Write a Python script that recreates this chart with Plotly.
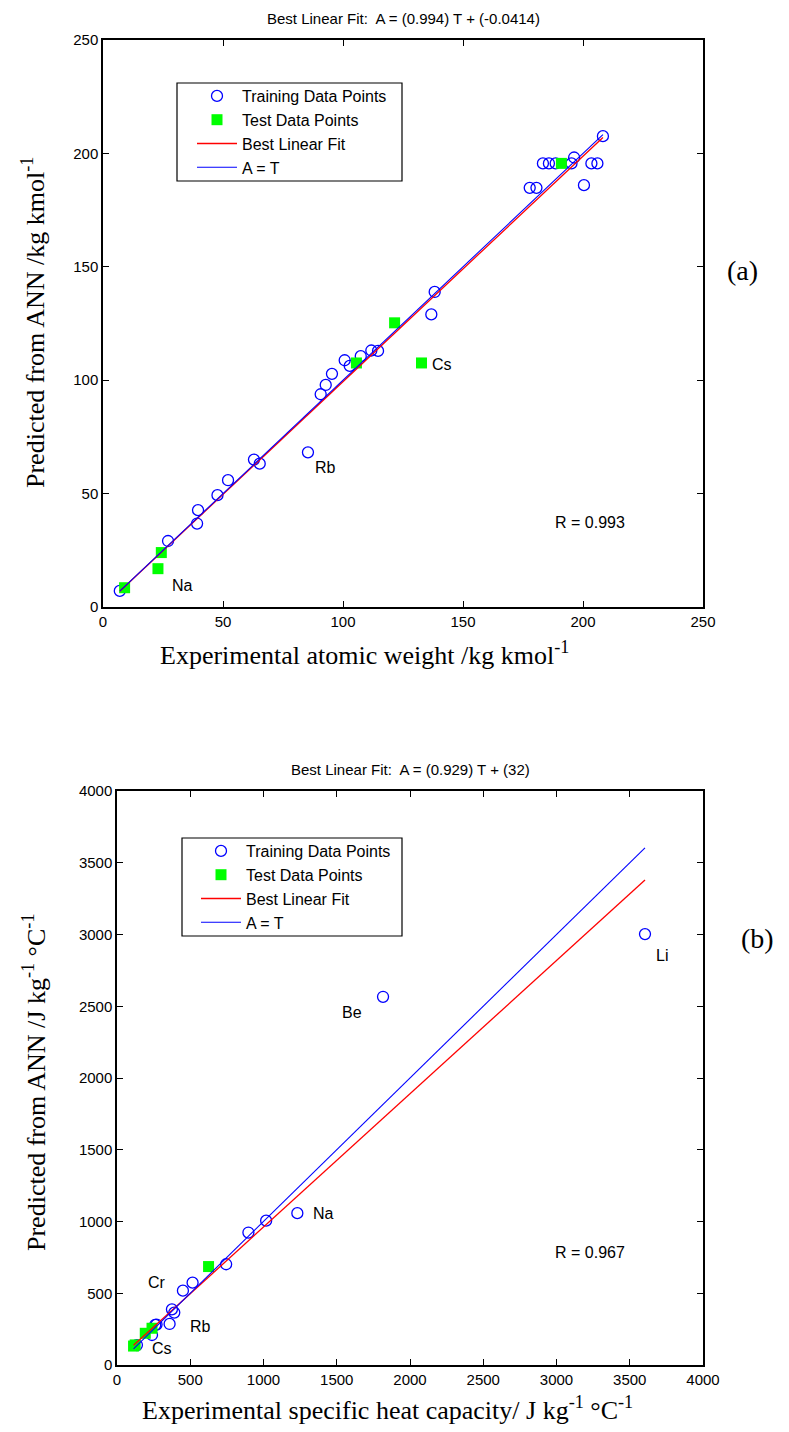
import plotly.graph_objects as go

# ---------------- data: (a) atomic weight ----------------
train_T_a = [7.0, 27.1, 39.2, 39.6, 47.7, 52.1, 62.9, 65.3, 85.4, 90.7, 92.8, 95.4,
             100.7, 102.8, 107.4, 111.8, 114.6, 136.8, 138.2, 177.8, 180.6, 183.3,
             185.8, 188.6, 195.2, 196.3, 200.4, 203.5, 206.0, 208.3]
train_A_a = [7.1, 29.1, 36.8, 42.7, 49.3, 55.9, 65.0, 63.2, 68.2, 93.8, 97.9, 102.8,
             108.8, 106.3, 110.6, 113.1, 112.9, 129.0, 138.9, 184.8, 184.8, 195.6,
             195.6, 195.6, 195.6, 198.2, 186.0, 195.6, 195.6, 207.6]
test_T_a = [9.0, 24.3, 22.9, 105.6, 121.5, 132.7, 191.0]
test_A_a = [8.5, 24.0, 16.9, 107.6, 125.3, 107.6, 195.6]
slope_a, icpt_a = 0.994, -0.0414
r_a = 0.993
labels_a = ["Na", "Rb", "Cs"]
labels_a_x = [33, 92.8, 141.4]
labels_a_y = [9.6, 61.5, 107]

# ---------------- data: (b) specific heat capacity ----------------
train_T_b = [136, 239, 261, 270, 359, 375, 391, 450, 516, 745, 897, 1018, 1231, 1816, 3604]
train_A_b = [139, 209, 279, 282, 286, 388, 365, 518, 574, 702, 923, 1006, 1058, 2566, 3003]
test_T_b = [113, 124, 193, 239, 625]
test_A_b = [132, 140, 221, 256, 686]
slope_b, icpt_b = 0.929, 32
r_b = 0.967
labels_b = ["Na", "Be", "Li", "Cr", "Rb", "Cs"]
labels_b_x = [1409, 1604, 3723, 273, 568, 307]
labels_b_y = [1058, 2455, 2852, 574, 267, 116]

OFF = 8                      # default body margin of the html page
W, H = 789 - 2 * OFF, 1432 - 2 * OFF
BLUE, GREEN, RED = "#0000FF", "#00FF00", "#FF0000"
SANS = "Liberation Sans, Arial, sans-serif"
SERIF = "Liberation Serif, Times New Roman, serif"


def px(v):  # page pixel -> paper fraction
    return (v - OFF) / W


def py(v):
    return 1 - (v - OFF) / H


fig = go.Figure()


def add_panel(tT, tA, sT, sA, slope, icpt, xa, ya, leg):
    allT = tT + sT
    lo, hi = min(allT), max(allT)
    fig.add_trace(go.Scatter(x=tT, y=tA, mode="markers", name="Training Data Points",
                             marker=dict(symbol="circle-open", size=11, color=BLUE,
                                         line=dict(width=1.3, color=BLUE)),
                             xaxis=xa, yaxis=ya, legend=leg))
    fig.add_trace(go.Scatter(x=sT, y=sA, mode="markers", name="Test Data Points",
                             marker=dict(symbol="square", size=11, color=GREEN,
                                         line=dict(width=0)),
                             xaxis=xa, yaxis=ya, legend=leg))
    fig.add_trace(go.Scatter(x=[lo, hi], y=[slope * lo + icpt, slope * hi + icpt],
                             mode="lines", name="Best Linear Fit",
                             line=dict(color=RED, width=1.3),
                             xaxis=xa, yaxis=ya, legend=leg))
    fig.add_trace(go.Scatter(x=[lo, hi], y=[lo, hi], mode="lines", name="A = T",
                             line=dict(color=BLUE, width=1.1),
                             xaxis=xa, yaxis=ya, legend=leg))


add_panel(train_T_a, train_A_a, test_T_a, test_A_a, slope_a, icpt_a, "x", "y", "legend")
add_panel(train_T_b, train_A_b, test_T_b, test_A_b, slope_b, icpt_b, "x2", "y2", "legend2")

axis_common = dict(showline=True, linecolor="black", linewidth=1.5, mirror="allticks",
                   ticks="inside", ticklen=6, tickcolor="black", tickwidth=1,
                   showgrid=False, zeroline=False, automargin=False,
                   tickfont=dict(family=SANS, size=15, color="black"))

legend_common = dict(xanchor="left", yanchor="top", borderwidth=0,
                     bgcolor="rgba(0,0,0,0)", itemwidth=40,
                     font=dict(family=SANS, size=16, color="black"))

fig.update_layout(
    width=W, height=H, margin=dict(l=0, r=0, t=0, b=0, pad=0, autoexpand=False),
    paper_bgcolor="white", plot_bgcolor="white", showlegend=True,
    xaxis=dict(domain=[px(103), px(703)], range=[0, 250], tickvals=[0, 50, 100, 150, 200, 250],
               anchor="y", **axis_common),
    yaxis=dict(domain=[py(607), py(40)], range=[0, 250], tickvals=[0, 50, 100, 150, 200, 250],
               anchor="x", **axis_common),
    xaxis2=dict(domain=[px(117), px(703)], range=[0, 4000],
                tickvals=[0, 500, 1000, 1500, 2000, 2500, 3000, 3500, 4000],
                anchor="y2", **axis_common),
    yaxis2=dict(domain=[py(1365), py(791)], range=[0, 4000],
                tickvals=[0, 500, 1000, 1500, 2000, 2500, 3000, 3500, 4000],
                anchor="x2", **axis_common),
    legend=dict(x=px(192), y=py(79), **legend_common),
    legend2=dict(x=px(196), y=py(834), **legend_common),
    shapes=[
        dict(type="rect", xref="paper", yref="paper", x0=px(177), x1=px(402),
             y0=py(181), y1=py(83), line=dict(color="black", width=1.2),
             fillcolor="white", layer="below"),
        dict(type="rect", xref="paper", yref="paper", x0=px(182), x1=px(402),
             y0=py(936), y1=py(838), line=dict(color="black", width=1.2),
             fillcolor="white", layer="below"),
    ],
)

ann = []


def note(text, x, y, font, xref="paper", yref="paper", angle=0):
    if xref == "paper":
        x, y = px(x), py(y)
    ann.append(dict(text=text, x=x, y=y, xref=xref, yref=yref, showarrow=False,
                    xanchor="center", yanchor="middle", textangle=angle, font=font))


f_title = dict(family=SANS, size=15, color="black")
f_axis = dict(family=SERIF, size=26, color="black")
f_lab = dict(family=SANS, size=16, color="black")

# titles
note("Best Linear Fit:  A = (%.3f) T + (%g)" % (slope_a, icpt_a), 403, 18, f_title)
note("Best Linear Fit:  A = (%.3f) T + (%g)" % (slope_b, icpt_b), 410, 769, f_title)
# axis titles
note("Experimental atomic weight /kg kmol<sup>-1</sup>", 364, 653, f_axis)
note("Predicted from ANN /kg kmol<sup>-1</sup>", 34, 323, f_axis, angle=-90)
note("Experimental specific heat capacity/ J kg<sup>-1</sup> °C<sup>-1</sup>", 387, 1408, f_axis)
note("Predicted from ANN /J kg<sup>-1</sup> °C<sup>-1</sup>", 34, 1082, f_axis, angle=-90)
# panel letters
note("(a)", 742, 270, dict(family=SERIF, size=28, color="black"))
note("(b)", 757, 938, dict(family=SERIF, size=28, color="black"))
# R values
note("R = %.3f" % r_a, 202.8, 37.4, f_lab, "x", "y")
note("R = %.3f" % r_b, 3227, 781, f_lab, "x2", "y2")
# element labels
for t, xx, yy in zip(labels_a, labels_a_x, labels_a_y):
    note(t, xx, yy, f_lab, "x", "y")
for t, xx, yy in zip(labels_b, labels_b_x, labels_b_y):
    note(t, xx, yy, f_lab, "x2", "y2")

fig.update_layout(annotations=ann)
fig.write_html("out.html")
